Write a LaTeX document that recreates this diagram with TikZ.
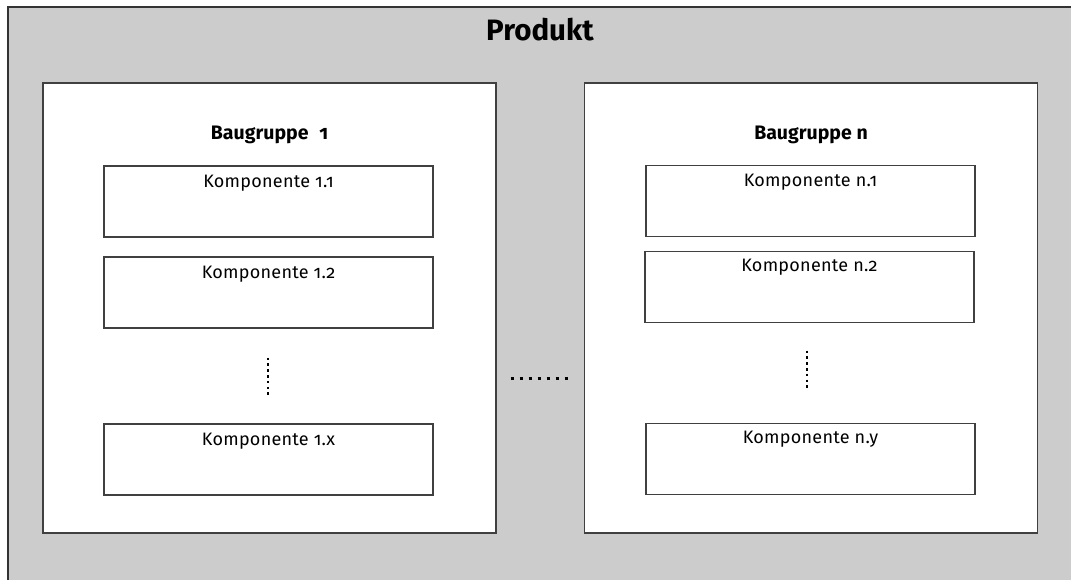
\documentclass[tikz,border=0pt]{standalone}
\usepackage{fontspec}
\setmainfont{Fira Sans}[Numbers=OldStyle]
\begin{document}
\begin{tikzpicture}[x=1pt,y=-1pt,
  frame/.style={draw=black!75,line width=1.3pt},
  groupbox/.style={frame,fill=white,rectangle,inner sep=0pt,minimum width=453pt,minimum height=450pt},
  compbox/.style={frame,fill=white,rectangle,inner sep=0pt,minimum width=329pt,minimum height=71pt},
  comptext/.style={anchor=base,font=\fontsize{18}{21}\selectfont\addfontfeatures{LetterSpace=1.5},inner sep=0pt},
  grouptext/.style={anchor=base,font=\fontsize{19.5}{23}\selectfont\bfseries,inner sep=0pt},
  vdots/.style={line width=2.6pt,dash pattern=on 2.6pt off 3.2pt},
  hdots/.style={line width=3pt,dash pattern=on 3pt off 6pt}]
\useasboundingbox (0,0) rectangle (1071,579);
% product area
\fill[black!20] (8,7) rectangle (1080,590);
\draw[black!80,line width=1.2pt] (8,590) -- (8,7) -- (1080,7);
\node[anchor=base,font=\fontsize{29.5}{34}\selectfont\bfseries,inner sep=0pt] (prod) at (540,40) {Produkt};

% assembly groups
\node[groupbox] (g1) at (269.5,308) {};
\node[groupbox] (gn) at (811,308) {};
\node[grouptext] (g1t) at (269.5,139) {Baugruppe\hspace{0.55em}1};
\node[grouptext] (gnt) at (811,139) {Baugruppe n};

% components of group 1
\node[compbox] (c11) at (268.5,201.5) {};
\node[compbox] (c12) at (268.5,292.5) {};
\node[compbox] (c1x) at (268.5,459.5) {};
\node[comptext] (c11t) at ([yshift=-22pt]c11.north) {Komponente 1.1};
\node[comptext] (c12t) at ([yshift=-22pt]c12.north) {Komponente 1.2};
\node[comptext] (c1xt) at ([yshift=-22pt]c1x.north) {Komponente 1.x};

% components of group n
\node[compbox] (cn1) at (810.5,201) {};
\node[compbox] (cn2) at (809.5,287) {};
\node[compbox] (cny) at (810.5,459) {};
\node[comptext] (cn1t) at ([yshift=-22pt]cn1.north) {Komponente n.1};
\node[comptext] (cn2t) at ([yshift=-21pt]cn2.north) {Komponente n.2};
\node[comptext] (cnyt) at ([yshift=-21pt]cny.north) {Komponente n.y};

% ellipsis marks
\coordinate (d1a) at (268,357.5);
\coordinate (d1b) at (268,398);
\draw[vdots] (d1a) -- (d1b);
\coordinate (dna) at (807,350.5);
\coordinate (dnb) at (807,391);
\draw[vdots] (dna) -- (dnb);
\coordinate (dga) at (510.5,378);
\coordinate (dgb) at (570,378);
\draw[hdots] (dga) -- (dgb);
\end{tikzpicture}
\end{document}
